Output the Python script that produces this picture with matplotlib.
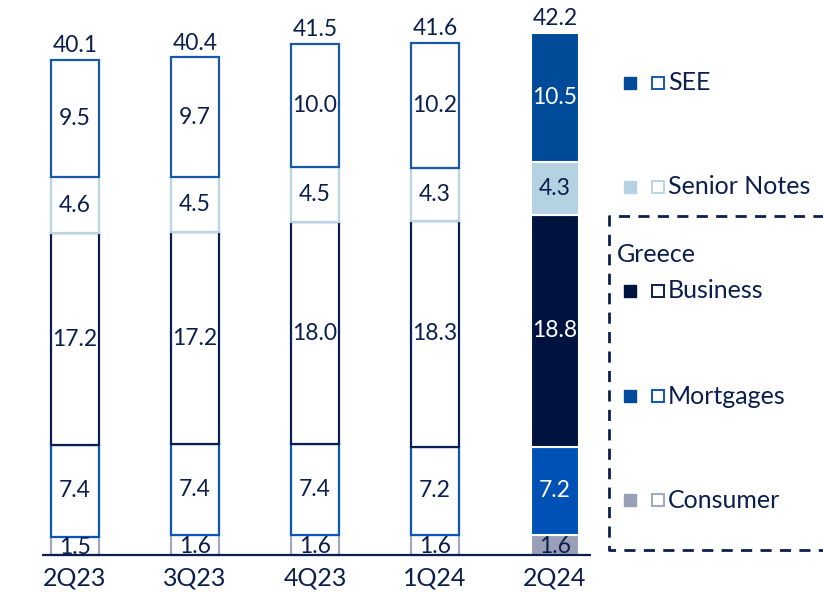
import numpy as np
import matplotlib
matplotlib.use('Agg')
import matplotlib.pyplot as plt

plt.rcParams['font.family'] = ['Lato', 'DejaVu Sans']

################################################################################
# DATA
################################################################################
quarters = ['2Q23', '3Q23', '4Q23', '1Q24', '2Q24']
consumer = [1.5, 1.6, 1.6, 1.6, 1.6]
mortgages = [7.4, 7.4, 7.4, 7.2, 7.2]
business = [17.2, 17.2, 18.0, 18.3, 18.8]
senior_notes = [4.6, 4.5, 4.5, 4.3, 4.3]
see = [9.5, 9.7, 10.0, 10.2, 10.5]
totals = [40.1, 40.4, 41.5, 41.6, 42.2]

series = [consumer, mortgages, business, senior_notes, see]
names = ['Consumer', 'Mortgages', 'Business', 'Senior Notes', 'SEE']
fill_cols = ['#9a9fb8', '#0051b5', '#00133f', '#b5d2e2', '#004a9a']
leg_cols = ['#9a9fb8', '#004a9a', '#00133f', '#b5d2e2', '#004a9a']
edge_cols = ['#a3a8be', '#0a55b8', '#0b1f4f', '#b9d5e5', '#1659a8']
txt_cols = ['#0b1f4f', 'white', 'white', '#0b1f4f', 'white']

navy = '#0b1f4f'

################################################################################
# PLOT
################################################################################
fig = plt.figure(figsize=(8.23, 5.92), dpi=100)
ax = fig.add_axes([0, 0, 1, 1])
ax.set_xlim(-0.625, 6.233)
ax.set_ylim(-3.0, 45.05)
ax.axis('off')

x = np.arange(len(quarters))
w = 0.4
bottom = np.zeros(len(quarters))
for k, vals in enumerate(series):
    vals = np.array(vals)
    for i in range(len(quarters)):
        last = i == len(quarters) - 1
        if last:
            ax.bar(x[i], vals[i], w, bottom=bottom[i], color=fill_cols[k],
                   edgecolor='white', linewidth=1.5)
            tc = txt_cols[k]
        else:
            ax.bar(x[i], vals[i], w, bottom=bottom[i], color='white',
                   edgecolor=edge_cols[k], linewidth=1.6)
            tc = navy
        yc = bottom[i] + vals[i] / 2
        if k == 0:
            yc = bottom[i] + vals[i] / 2 - 0.1
        ax.text(x[i], yc, f'{vals[i]:.1f}', ha='center', va='center',
                fontsize=16.5, color=tc)
    bottom += vals

for i, t in enumerate(totals):
    ax.text(x[i], bottom[i] + 0.3, f'{t:.1f}', ha='center', va='bottom',
            fontsize=16.5, color=navy)

# axis baseline and quarter labels
ax.plot([-0.275, 4.3], [0, 0], color=navy, lw=1.6, solid_capstyle='butt')
for i, q in enumerate(quarters):
    ax.text(x[i], -1.9, q, ha='center', va='center', fontsize=18, color=navy)

################################################################################
# LEGEND
################################################################################
tr = ax.transAxes
H, W = 592.0, 823.0
def px(xp, yp):
    return xp / W, 1 - yp / H

leg_y = {'SEE': 83, 'Senior Notes': 187, 'Business': 291,
         'Mortgages': 396, 'Consumer': 500}
for k, name in enumerate(names):
    xa, ya = px(630, leg_y[name])
    ax.plot(xa, ya, marker='s', ms=8.5, color=leg_cols[k], mec=leg_cols[k],
            transform=tr, clip_on=False)
    xb, yb = px(658, leg_y[name])
    ax.plot(xb, yb, marker='s', ms=8.5, mfc='white', mec=edge_cols[k],
            mew=1.4, transform=tr, clip_on=False)
    xt, yt = px(668, leg_y[name])
    ax.text(xt, yt, name, ha='left', va='center', fontsize=18, color=navy,
            transform=tr)

xg, yg = px(617, 255)
ax.text(xg, yg, 'Greece', ha='left', va='center', fontsize=18, color=navy,
        transform=tr)

# dashed box around Greece group
x0, y1 = px(609, 216)
x1, y0 = px(830, 550)
ax.plot([x1, x0, x0, x1], [y1, y1, y0, y0], color=navy, lw=2,
        ls=(0, (4, 3)), transform=tr, clip_on=False)

plt.savefig('out.png', dpi=100)
